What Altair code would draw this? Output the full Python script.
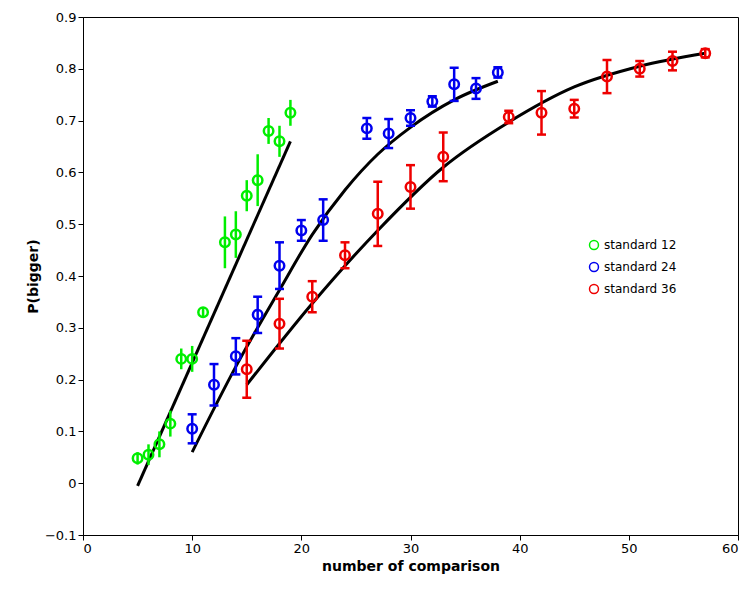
import pandas as pd
import altair as alt

g_x = [5, 6, 7, 8, 9, 10, 11, 13, 14, 15, 16, 17, 18, 19]
g_y = [0.048, 0.055, 0.075, 0.115, 0.24, 0.24, 0.33, 0.465, 0.48, 0.555, 0.585, 0.68, 0.66, 0.715]
g_e = [0.012, 0.02, 0.025, 0.025, 0.02, 0.025, 0.01, 0.05, 0.045, 0.03, 0.05, 0.025, 0.03, 0.025]

b_x = [10, 12, 14, 16, 18, 20, 22, 26, 28, 30, 32, 34, 36, 38]
b_y = [0.105, 0.19, 0.245, 0.325, 0.42, 0.488, 0.508, 0.685, 0.675, 0.705, 0.737, 0.77, 0.762, 0.793]
b_e = [0.028, 0.04, 0.035, 0.035, 0.045, 0.02, 0.04, 0.02, 0.028, 0.015, 0.01, 0.032, 0.02, 0.01]

r_x = [15, 18, 21, 24, 27, 30, 33, 39, 42, 45, 48, 51, 54, 57]
r_y = [0.22, 0.308, 0.36, 0.44, 0.52, 0.572, 0.63, 0.707, 0.715, 0.723, 0.785, 0.80, 0.815, 0.83]
r_e = [0.055, 0.048, 0.03, 0.025, 0.062, 0.042, 0.047, 0.012, 0.042, 0.017, 0.032, 0.015, 0.018, 0.008]

fit_g_x = [5, 19]
fit_g_y = [-0.005, 0.66]
fit_b_x = [10, 14, 18, 21, 24, 27, 30, 34, 38]
fit_b_y = [0.06, 0.225, 0.373, 0.48, 0.566, 0.635, 0.687, 0.74, 0.776]
fit_r_x = [15, 21, 27, 33, 39, 45, 51, 57]
fit_r_y = [0.19, 0.347, 0.488, 0.61, 0.697, 0.765, 0.805, 0.83]

labels = ["standard 12", "standard 24", "standard 36"]
colors = ["#00ee00", "#0000ee", "#ee0000"]

rows, fits = [], []
for lab, xs_, ys_, es in zip(labels, [g_x, b_x, r_x], [g_y, b_y, r_y], [g_e, b_e, r_e]):
    for x, y, e in zip(xs_, ys_, es):
        rows.append({"series": lab, "x": x, "y": y, "lo": y - e, "hi": y + e})
for lab, xs_, ys_ in zip(labels, [fit_g_x, fit_b_x, fit_r_x], [fit_g_y, fit_b_y, fit_r_y]):
    for x, y in zip(xs_, ys_):
        fits.append({"series": lab, "x": x, "y": y})
df = pd.DataFrame(rows)
fdf = pd.DataFrame(fits)

xs = alt.Scale(domain=[0, 60], nice=False)
ys = alt.Scale(domain=[-0.1, 0.9], nice=False)
cscale = alt.Scale(domain=labels, range=colors)
color_nolegend = alt.Color("series:N", scale=cscale, legend=None)
color = alt.Color("series:N", scale=cscale, title=None,
                  legend=alt.Legend(orient="none", legendX=505, legendY=222,
                                    symbolType="circle", symbolStrokeWidth=1.5,
                                    symbolOpacity=1, labelFontSize=12, symbolSize=80,
                                    rowPadding=6))

base = alt.Chart(df)
bars = base.mark_rule(strokeWidth=2.5, opacity=1).encode(
    x=alt.X("x:Q", scale=xs), y=alt.Y("lo:Q", scale=ys), y2="hi:Q", color=color_nolegend)
capped = base.transform_filter(alt.datum.series != "standard 12")
cap_lo = capped.mark_tick(thickness=2.5, size=9, orient="horizontal", opacity=1).encode(
    x=alt.X("x:Q", scale=xs), y=alt.Y("lo:Q", scale=ys), color=color_nolegend)
cap_hi = capped.mark_tick(thickness=2.5, size=9, orient="horizontal", opacity=1).encode(
    x=alt.X("x:Q", scale=xs), y=alt.Y("hi:Q", scale=ys), color=color_nolegend)
pts = base.mark_point(shape="circle", size=90, strokeWidth=2.5, filled=False, opacity=1).encode(
    x=alt.X("x:Q", scale=xs, title="number of comparison",
            axis=alt.Axis(values=list(range(0, 61, 10)))),
    y=alt.Y("y:Q", scale=ys, title="P(bigger)",
            axis=alt.Axis(values=[round(-0.1 + 0.1 * i, 1) for i in range(11)], format=".1~f")),
    color=color)
lines = alt.Chart(fdf).mark_line(color="black", strokeWidth=3, interpolate="monotone").encode(
    x=alt.X("x:Q", scale=xs), y=alt.Y("y:Q", scale=ys), detail="series:N")

chart = (lines + bars + cap_lo + cap_hi + pts).resolve_legend(color="independent").properties(
    width=655, height=518, padding={"left": 18, "top": 3, "right": 5, "bottom": 5}
).configure_view(
    stroke="black", strokeWidth=1
).configure_axis(
    grid=False, labelFontSize=13, titleFontSize=14, titleFontWeight="bold",
    domainColor="black", tickColor="black", labelColor="black", titleColor="black",
    tickSize=5, labelFont="DejaVu Sans", titleFont="DejaVu Sans"
).configure_legend(labelFont="DejaVu Sans")

chart.save("out.html", embed_options={"renderer": "svg", "actions": False})
